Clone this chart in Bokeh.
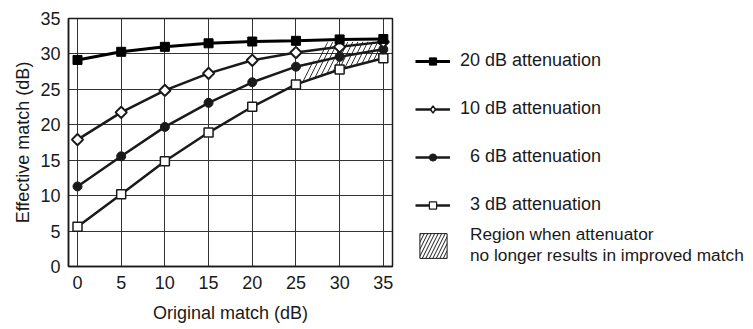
import math
from bokeh.plotting import figure
from bokeh.layouts import row
from bokeh.models import Range1d, FixedTicker, Legend, LegendItem
from bokeh.embed import file_html
from bokeh.resources import INLINE

original = [0, 5, 10, 15, 20, 25, 30, 35]
att20 = [29.15, 30.3, 31.0, 31.5, 31.75, 31.85, 32.05, 32.1]
att10 = [17.9, 21.75, 24.85, 27.25, 29.1, 30.2, 31.0, 31.7]
att6 = [11.3, 15.55, 19.7, 23.1, 26.0, 28.2, 29.6, 30.65]
att3 = [5.6, 10.2, 14.85, 18.9, 22.55, 25.7, 27.8, 29.4]
region_x = [25, 28.6, 35, 35, 30]
region_y = [25.7, 31.65, 31.75, 29.4, 27.8]
ticks = [0, 5, 10, 15, 20, 25, 30, 35]
labels = ["20 dB attenuation", "10 dB attenuation", "\u20076 dB attenuation",
          "\u20073 dB attenuation", "Region when attenuator\nno longer results in improved match"]

FONT = "Liberation Sans"
FS = "18px"
INK = "#1a1a1a"

p = figure(frame_width=324, frame_height=248, min_border_left=68, min_border_top=18,
           min_border_bottom=63, min_border_right=2,
           x_range=Range1d(-1.03, 36.05), y_range=Range1d(0, 35),
           output_backend="svg", toolbar_location=None, tools="")

p.outline_line_color = INK
p.outline_line_width = 1.5
p.background_fill_color = "white"
p.border_fill_color = "white"

for ax in (p.xaxis[0], p.yaxis[0]):
    ax.ticker = FixedTicker(ticks=ticks)
    ax.major_tick_out = 0
    ax.major_tick_in = 0
    ax.minor_tick_out = 0
    ax.minor_tick_in = 0
    ax.axis_line_color = INK
    ax.axis_line_width = 1.5
    ax.major_label_text_font = FONT
    ax.major_label_text_font_size = FS
    ax.major_label_text_color = INK
    ax.axis_label_text_font = FONT
    ax.axis_label_text_font_size = FS
    ax.axis_label_text_font_style = "normal"
    ax.axis_label_text_color = INK

p.xaxis.axis_label = "Original match (dB)"
p.yaxis.axis_label = "Effective match (dB)"
p.xaxis.major_label_standoff = 9
p.yaxis.major_label_standoff = 8
p.xaxis.axis_label_standoff = 11
p.yaxis.axis_label_standoff = 4

for g in (p.xgrid[0], p.ygrid[0]):
    g.ticker = FixedTicker(ticks=ticks)
    g.grid_line_color = "#333333"
    g.grid_line_width = 1

p.patch(region_x, region_y, fill_color="white", fill_alpha=0,
        hatch_pattern="/", hatch_color=INK, hatch_scale=10, hatch_weight=0.9,
        line_alpha=0)

p.line(original, att3, line_color=INK, line_width=2.5)
p.scatter(original, att3, marker="square", size=9, fill_color="white",
          line_color=INK, line_width=1.5)
p.line(original, att6, line_color=INK, line_width=2.5)
p.scatter(original, att6, marker="circle", size=9, fill_color=INK, line_color=INK)
p.line(original, att10, line_color=INK, line_width=2.5)
p.scatter(original, att10, marker="square", angle=math.pi / 4, size=8,
          fill_color="white", line_color=INK, line_width=2)
p.line(original, att20, line_color="black", line_width=3)
p.scatter(original, att20, marker="square", size=9, fill_color="black",
          line_color="black")

# ---- legend panel ----
q = figure(width=359, height=329, min_border=0, x_range=Range1d(0, 35), y_range=Range1d(0, 35),
           x_axis_location=None, y_axis_location=None,
           output_backend="svg", toolbar_location=None, tools="")
q.grid.visible = False
q.outline_line_color = None
q.background_fill_color = "white"
q.border_fill_color = "white"

kl20 = q.line(original, att20, line_color="black", line_width=3, visible=False)
k20 = q.scatter(original, att20, marker="square", fill_color="black",
                line_color="black", visible=False)
kl10 = q.line(original, att10, line_color=INK, line_width=2.5, visible=False)
k10 = q.scatter(original, att10, marker="diamond", fill_color="white",
                line_color=INK, line_width=1.5, visible=False)
kl6 = q.line(original, att6, line_color=INK, line_width=2.5, visible=False)
k6 = q.scatter(original, att6, marker="circle", fill_color=INK, line_color=INK,
               visible=False)
kl3 = q.line(original, att3, line_color=INK, line_width=2.5, visible=False)
k3 = q.scatter(original, att3, marker="square", fill_color="white",
               line_color=INK, line_width=1.2, visible=False)
kreg = q.patch(region_x, region_y, fill_color="white", hatch_pattern="/", hatch_color=INK,
               hatch_scale=7, hatch_weight=1, line_color=INK, line_width=1, visible=False)

legend1 = Legend(items=[
    LegendItem(label=labels[0], renderers=[kl20, k20]),
    LegendItem(label=labels[1], renderers=[kl10, k10]),
    LegendItem(label=labels[2], renderers=[kl6, k6]),
    LegendItem(label=labels[3], renderers=[kl3, k3]),
], location=(21, 51), margin=0, padding=0,
    glyph_width=35, glyph_height=18, label_height=20, spacing=27, label_standoff=10,
    label_text_font=FONT, label_text_font_size=FS,
    label_text_color=INK, border_line_alpha=0, background_fill_alpha=0)
q.add_layout(legend1, "center")

legend2 = Legend(items=[
    LegendItem(label=labels[4], renderers=[kreg]),
], location=(22, 0), margin=0, padding=0,
    glyph_width=34, glyph_height=31, spacing=0, label_standoff=20,
    label_text_font=FONT, label_text_font_size="17.3px", label_text_line_height=1.27,
    label_text_color=INK, border_line_alpha=0, background_fill_alpha=0)
q.add_layout(legend2, "center")

layout = row(p, q, spacing=0)
open("out.html", "w").write(file_html(layout, INLINE))
